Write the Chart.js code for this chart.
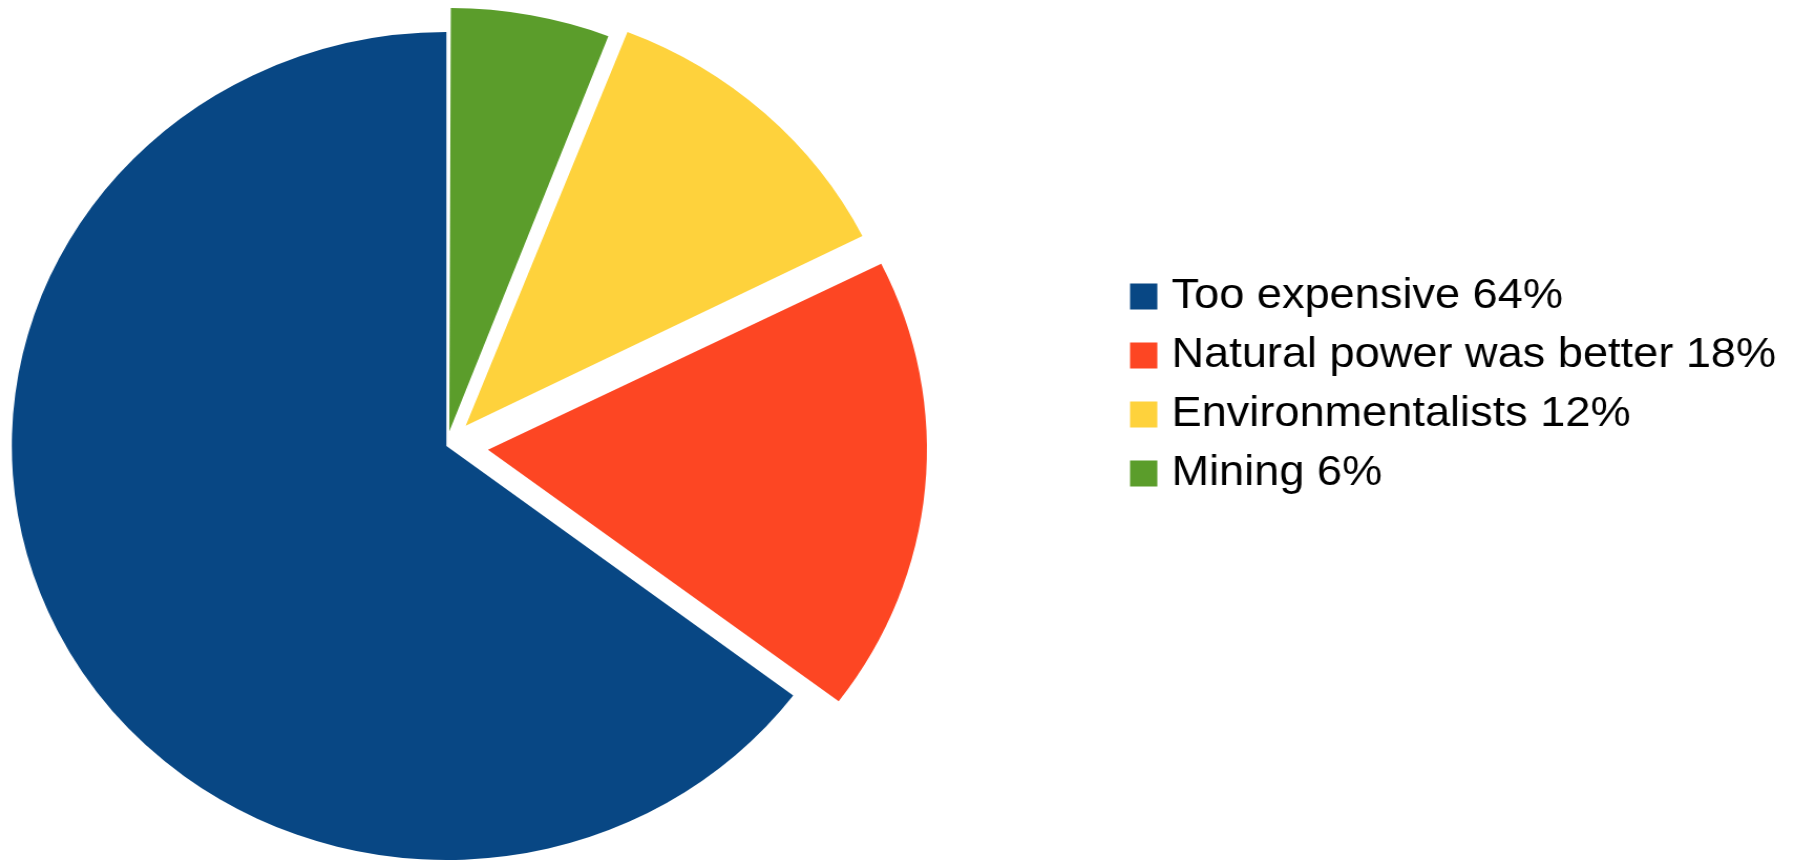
<!DOCTYPE html>
<html>
<head>
<meta charset="utf-8">
<script src="https://cdn.jsdelivr.net/npm/chart.js@4"></script>
<style>
  html, body { margin: 0; padding: 0; background: #fff; overflow: hidden; }
  /* the source picture is a little wider than tall, so stretch the canvas;
     the canvas is also wider than the page and slid left so the pie sits near the edge */
  #pie { display: block; transform: translateX(-228.8px) scaleX(1.0497); transform-origin: 0 0; }
</style>
</head>
<body>
<canvas id="pie" width="1930" height="861"></canvas>
<script>
// Legend order (top to bottom)
const categories = ['Too expensive 64%', 'Natural power was better 18%', 'Environmentalists 12%', 'Mining 6%'];
// answers per category (11 : 3 : 2 : 1)
const responses = [11, 3, 2, 1];

// slices go clockwise from 12 o'clock starting with the last category
const sliceColors = ['#084784', '#fd4623', '#fed23c', '#5b9d2b'];
// chart.js moves an arc by roughly offset/4 (more for thin slices)
const sliceOffsets = [0, 159, 109, 59];

const rev = arr => arr.slice().reverse();

const ctx = document.getElementById('pie').getContext('2d');
const pieChart = new Chart(ctx, {
    type: 'pie',
    data: {
        labels: rev(categories),
        datasets: [{
            data: rev(responses),
            backgroundColor: rev(sliceColors),
            offset: rev(sliceOffsets),
            borderWidth: 0,
            clip: false
        }]
    },
    options: {
        responsive: false,
        animation: false,
        devicePixelRatio: 1,
        radius: 414,
        layout: {
            padding: { left: 0, right: 10, top: 259, bottom: 228 }
        },
        plugins: {
            tooltip: { enabled: false },
            legend: {
                position: 'right',
                align: 'start',
                reverse: true,
                labels: {
                    color: '#000',
                    font: { family: '"Liberation Sans", Arial, sans-serif', size: 43 },
                    usePointStyle: true,
                    pointStyle: 'rect',
                    boxWidth: 10,
                    boxHeight: 26,
                    padding: 16
                }
            }
        }
    }
});
</script>
</body>
</html>
